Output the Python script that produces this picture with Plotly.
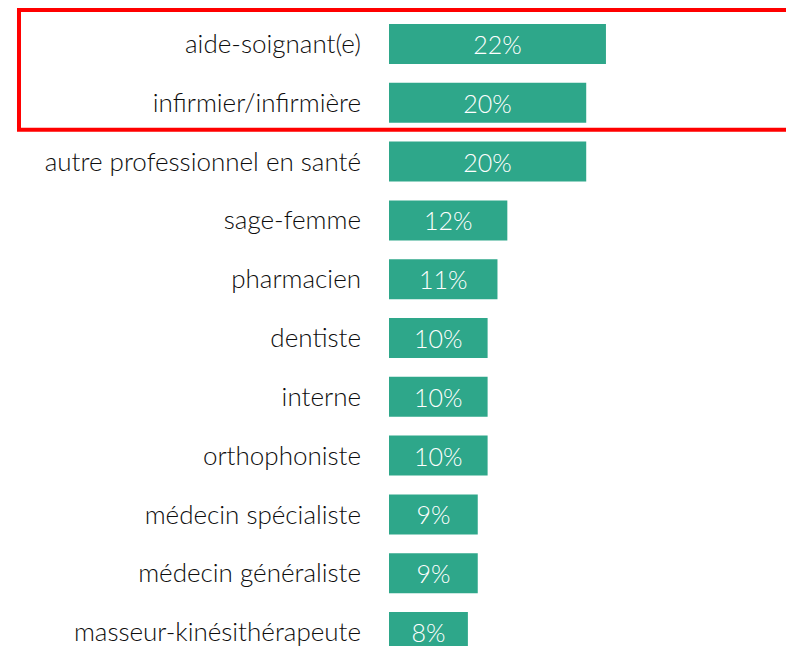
import plotly.graph_objects as go

categories = [
    "aide-soignant(e)",
    "infirmier/infirmière",
    "autre professionnel en santé",
    "sage-femme",
    "pharmacien",
    "dentiste",
    "interne",
    "orthophoniste",
    "médecin spécialiste",
    "médecin généraliste",
    "masseur-kinésithérapeute",
]
values = [22, 20, 20, 12, 11, 10, 10, 10, 9, 9, 8]
value_labels = ["22%", "20%", "20%", "12%", "11%", "10%", "10%", "10%", "9%", "9%", "8%"]

BAR_COLOR = "#2ea78a"
FONT = "Lato"

fig = go.Figure(
    go.Bar(
        x=values,
        y=list(range(len(categories))),
        orientation="h",
        marker=dict(color=BAR_COLOR, line=dict(width=0)),
        text=value_labels,
        textposition="inside",
        insidetextanchor="middle",
        textfont=dict(color="white", size=25, family=FONT, weight=300),
        width=0.68,
        hoverinfo="skip",
    )
)

fig.update_layout(
    width=786,
    height=638,
    margin=dict(l=381, r=0, t=0, b=0),
    paper_bgcolor="white",
    plot_bgcolor="white",
    showlegend=False,
    xaxis=dict(range=[0, 41.07], visible=False, fixedrange=True),
    yaxis=dict(
        range=[10.238, -0.612],
        tickmode="array",
        tickvals=list(range(len(categories))),
        ticktext=categories,
        tickfont=dict(size=26, family=FONT, color="#0d0d0d", weight=300),
        showgrid=False,
        zeroline=False,
        showline=False,
        ticks="",
        ticklabelstandoff=27,
        ticklabeloverflow="allow",
    ),
)

# red highlight frame around the first two categories (open on the right, runs off the edge)
fx0, fx1 = -0.9136, 1.2
fy0, fy1 = -0.5 - 0.08, 1.5 - 0.04
fig.add_shape(
    type="path",
    xref="paper",
    yref="y",
    path=f"M {fx1},{fy0} L {fx0},{fy0} L {fx0},{fy1} L {fx1},{fy1}",
    line=dict(color="#ff0000", width=4),
    fillcolor="rgba(0,0,0,0)",
    layer="above",
)

fig.write_html("out.html")
